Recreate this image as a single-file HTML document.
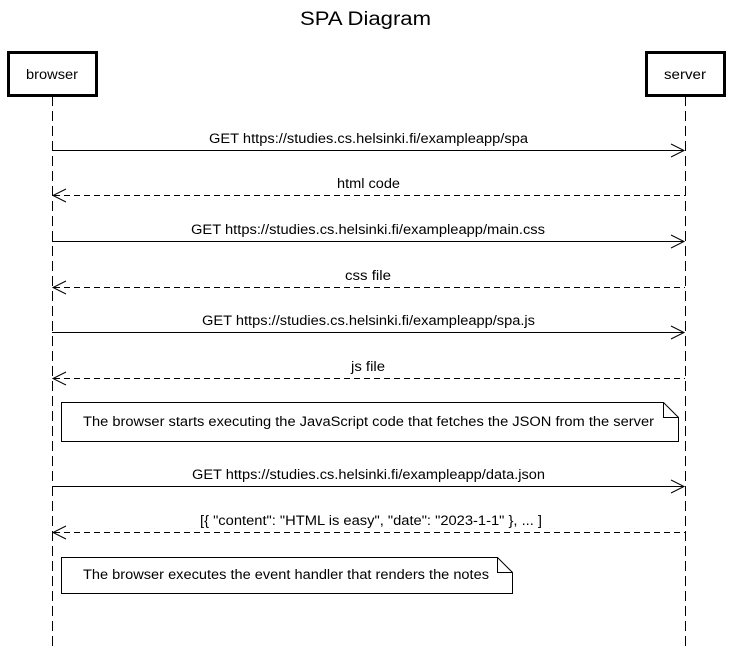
<!DOCTYPE html>
<html><head><style>body{margin:0;background:#fff}svg{display:block}text{font-family:"Liberation Sans",Arial,sans-serif;font-size:13.5px;fill:#000}</style></head><body>
<svg width="731" height="651" xmlns="http://www.w3.org/2000/svg">
<text x="300" y="25" textLength="131" lengthAdjust="spacingAndGlyphs" style="font-size:19px">SPA Diagram</text>
<g stroke="#000" fill="none">
<rect x="8.5" y="52.5" width="88" height="43" stroke-width="3" fill="#fff"/>
<rect x="646.5" y="52.5" width="78" height="43" stroke-width="3" fill="#fff"/>
<line x1="52.5" y1="96" x2="52.5" y2="651" stroke-dasharray="10,5"/>
<line x1="685.5" y1="96" x2="685.5" y2="651" stroke-dasharray="10,5"/>
<g>
<line x1="52" y1="150.5" x2="684" y2="150.5"/><polyline points="671,144 684,150.5 671,157"/>
<line x1="54" y1="195.5" x2="685" y2="195.5" stroke-dasharray="6,4"/><polyline points="66,189 53,195.5 66,202"/>
<line x1="52" y1="241.5" x2="684" y2="241.5"/><polyline points="671,235 684,241.5 671,248"/>
<line x1="54" y1="287.5" x2="685" y2="287.5" stroke-dasharray="6,4"/><polyline points="66,281 53,287.5 66,294"/>
<line x1="52" y1="332.5" x2="684" y2="332.5"/><polyline points="671,326 684,332.5 671,339"/>
<line x1="54" y1="378.5" x2="685" y2="378.5" stroke-dasharray="6,4"/><polyline points="66,372 53,378.5 66,385"/>
<line x1="52" y1="486.5" x2="684" y2="486.5"/><polyline points="671,480 684,486.5 671,493"/>
<line x1="54" y1="532.5" x2="685" y2="532.5" stroke-dasharray="6,4"/><polyline points="66,526 53,532.5 66,539"/>
</g>
<path d="M61.5 402.5 H663.5 L678.5 417.5 V441.5 H61.5 Z M663.5 402.5 V417.5 H678.5" fill="#fff"/>
<path d="M61.5 557.5 H497.5 L512.5 572.5 V593.5 H61.5 Z M497.5 557.5 V572.5 H512.5" fill="#fff"/>
</g>
<text x="209" y="143" textLength="319" lengthAdjust="spacingAndGlyphs">GET https://studies.cs.helsinki.fi/exampleapp/spa</text>
<text x="337" y="188" textLength="63" lengthAdjust="spacingAndGlyphs">html code</text>
<text x="191" y="234" textLength="354" lengthAdjust="spacingAndGlyphs">GET https://studies.cs.helsinki.fi/exampleapp/main.css</text>
<text x="345" y="280" textLength="46" lengthAdjust="spacingAndGlyphs">css file</text>
<text x="202" y="325" textLength="333" lengthAdjust="spacingAndGlyphs">GET https://studies.cs.helsinki.fi/exampleapp/spa.js</text>
<text x="351" y="371" textLength="34" lengthAdjust="spacingAndGlyphs">js file</text>
<text x="192" y="479" textLength="353" lengthAdjust="spacingAndGlyphs">GET https://studies.cs.helsinki.fi/exampleapp/data.json</text>
<text x="200" y="525" textLength="342" lengthAdjust="spacingAndGlyphs">[{ "content": "HTML is easy", "date": "2023-1-1" }, ... ]</text>
<text x="26" y="79" textLength="52" lengthAdjust="spacingAndGlyphs">browser</text>
<text x="664" y="79" textLength="42" lengthAdjust="spacingAndGlyphs">server</text>
<text x="83" y="426" textLength="571" lengthAdjust="spacingAndGlyphs">The browser starts executing the JavaScript code that fetches the JSON from the server</text>
<text x="83" y="579" textLength="406" lengthAdjust="spacingAndGlyphs">The browser executes the event handler that renders the notes</text>
</svg>
</body></html>
